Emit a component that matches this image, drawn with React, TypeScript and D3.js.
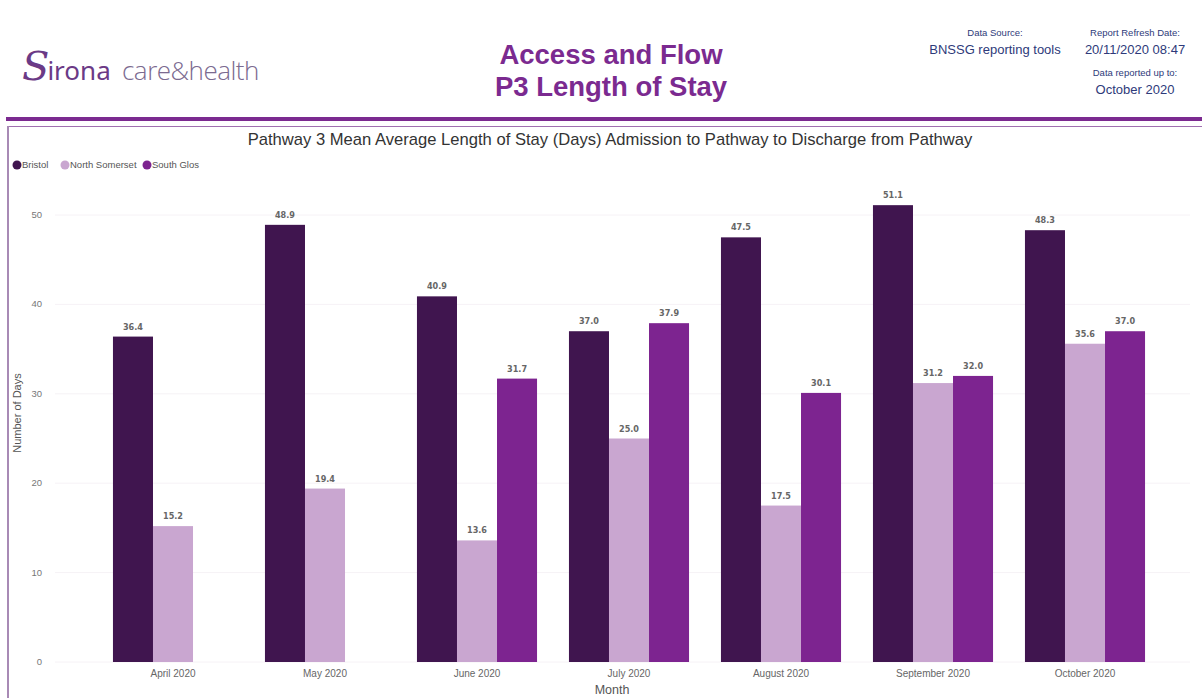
import React from "react";
import * as d3 from "d3";

const months = ["April 2020", "May 2020", "June 2020", "July 2020", "August 2020", "September 2020", "October 2020"];
const seriesNames = ["Bristol", "North Somerset", "South Glos"];
const bristol = [36.4, 48.9, 40.9, 37.0, 47.5, 51.1, 48.3];
const northSomerset = [15.2, 19.4, 13.6, 25.0, 17.5, 31.2, 35.6];
const southGlos: (number | null)[] = [null, null, 31.7, 37.9, 30.1, 32.0, 37.0];
const yTicks = [0, 10, 20, 30, 40, 50];
const colors = ["#40154f", "#c9a6d0", "#7d2490"];

export default function App() {
  const W = 1202, H = 698;
  const x0 = d3.scaleBand<string>().domain(months).range([97, 1161]).paddingInner(0.21).paddingOuter(0.105);
  const x1 = d3.scaleBand<string>().domain(seriesNames).range([0, x0.bandwidth()]).padding(0);
  const y = d3.scaleLinear().domain([0, 50]).range([662, 215]);
  const data = [bristol, northSomerset, southGlos];
  const font = "'Liberation Sans', Arial, sans-serif";
  const bars: JSX.Element[] = [];
  months.forEach((m, i) => {
    seriesNames.forEach((s, j) => {
      const v = data[j][i];
      if (v == null) return;
      const bx = (x0(m) as number) + (x1(s) as number);
      const bw = x1.bandwidth();
      bars.push(
        <g key={m + s}>
          <rect x={bx} y={y(v)} width={bw} height={y(0) - y(v)} fill={colors[j]} />
          <text x={bx + bw / 2} y={y(v) - 7} textAnchor="middle" fontSize={9} fontWeight="bold" fill="#666" fontFamily="'DejaVu Sans Condensed', 'DejaVu Sans', sans-serif">{v.toFixed(1)}</text>
        </g>
      );
    });
  });
  return (
    <div style={{ position: "absolute", left: 0, top: 0 }}>
      <svg width={W} height={H} style={{ display: "block", background: "#fff" }}>
        {/* logo */}
        <text x={22} y={80} fill="#6b3a86">
          <tspan fontFamily="'DejaVu Serif', serif" fontStyle="italic" fontSize={40}>S</tspan>
          <tspan fontFamily="'Noto Sans', sans-serif" fontSize={26} dx={-2}>irona</tspan>
        </text>
        <text x={122} y={80} fontFamily="'Open Sans', sans-serif" fontWeight={300} fontSize={26} fill="#7b6a90" letterSpacing={-0.5}>care&amp;health</text>

        {/* title */}
        <text x={611} y={64} textAnchor="middle" fontFamily={font} fontWeight="bold" fontSize={27.5} fill="#7b2a90">Access and Flow</text>
        <text x={611} y={96} textAnchor="middle" fontFamily={font} fontWeight="bold" fontSize={27.5} fill="#7b2a90">P3 Length of Stay</text>

        {/* info */}
        <text x={995} y={36} textAnchor="middle" fontFamily={font} fontSize={9.5} fill="#2e3a7a">Data Source:</text>
        <text x={995} y={54} textAnchor="middle" fontFamily={font} fontSize={13} fill="#2e3a7a">BNSSG reporting tools</text>
        <text x={1135} y={36} textAnchor="middle" fontFamily={font} fontSize={9.5} fill="#2e3a7a">Report Refresh Date:</text>
        <text x={1135} y={54} textAnchor="middle" fontFamily={font} fontSize={13} fill="#2e3a7a">20/11/2020 08:47</text>
        <text x={1135} y={76} textAnchor="middle" fontFamily={font} fontSize={9.5} fill="#2e3a7a">Data reported up to:</text>
        <text x={1135} y={94} textAnchor="middle" fontFamily={font} fontSize={13} fill="#2e3a7a">October 2020</text>

        {/* header lines */}
        <rect x={6} y={117} width={W - 6} height={4} fill="#7b2a90" />
        <line x1={8} x2={W} y1={126.5} y2={126.5} stroke="#a070b0" strokeWidth={1} />
        <line x1={8} x2={8} y1={126} y2={H} stroke="#a88ab5" strokeWidth={2} />

        {/* chart title */}
        <text x={610} y={145} textAnchor="middle" fontFamily={font} fontSize={16.6} fill="#333">Pathway 3 Mean Average Length of Stay (Days) Admission to Pathway to Discharge from Pathway</text>

        {/* legend */}
        {(() => {
          const xs = [13, 61, 143];
          return seriesNames.map((s, j) => (
            <g key={s}>
              <circle cx={xs[j] + 4} cy={165} r={4.5} fill={colors[j]} />
              <text x={xs[j] + 9} y={168} fontFamily={font} fontSize={9.5} fill="#555">{s}</text>
            </g>
          ));
        })()}

        {/* y axis */}
        {yTicks.map((t) => (
          <g key={t}>
            <line x1={55} x2={1190} y1={y(t)} y2={y(t)} stroke="#f6f2f6" strokeWidth={1} />
            <text x={42} y={y(t) + 3} textAnchor="end" fontFamily={font} fontSize={9.5} fill="#777">{t}</text>
          </g>
        ))}
        <text transform={`translate(21, 413) rotate(-90)`} textAnchor="middle" fontFamily={font} fontSize={11} fill="#555">Number of Days</text>

        {bars}

        {/* x axis */}
        {months.map((m) => (
          <text key={m} x={(x0(m) as number) + x0.bandwidth() / 2} y={677} textAnchor="middle" fontFamily={font} fontSize={10} fill="#666">{m}</text>
        ))}
        <text x={612} y={694} textAnchor="middle" fontFamily={font} fontSize={12.5} fill="#555">Month</text>
      </svg>
    </div>
  );
}
